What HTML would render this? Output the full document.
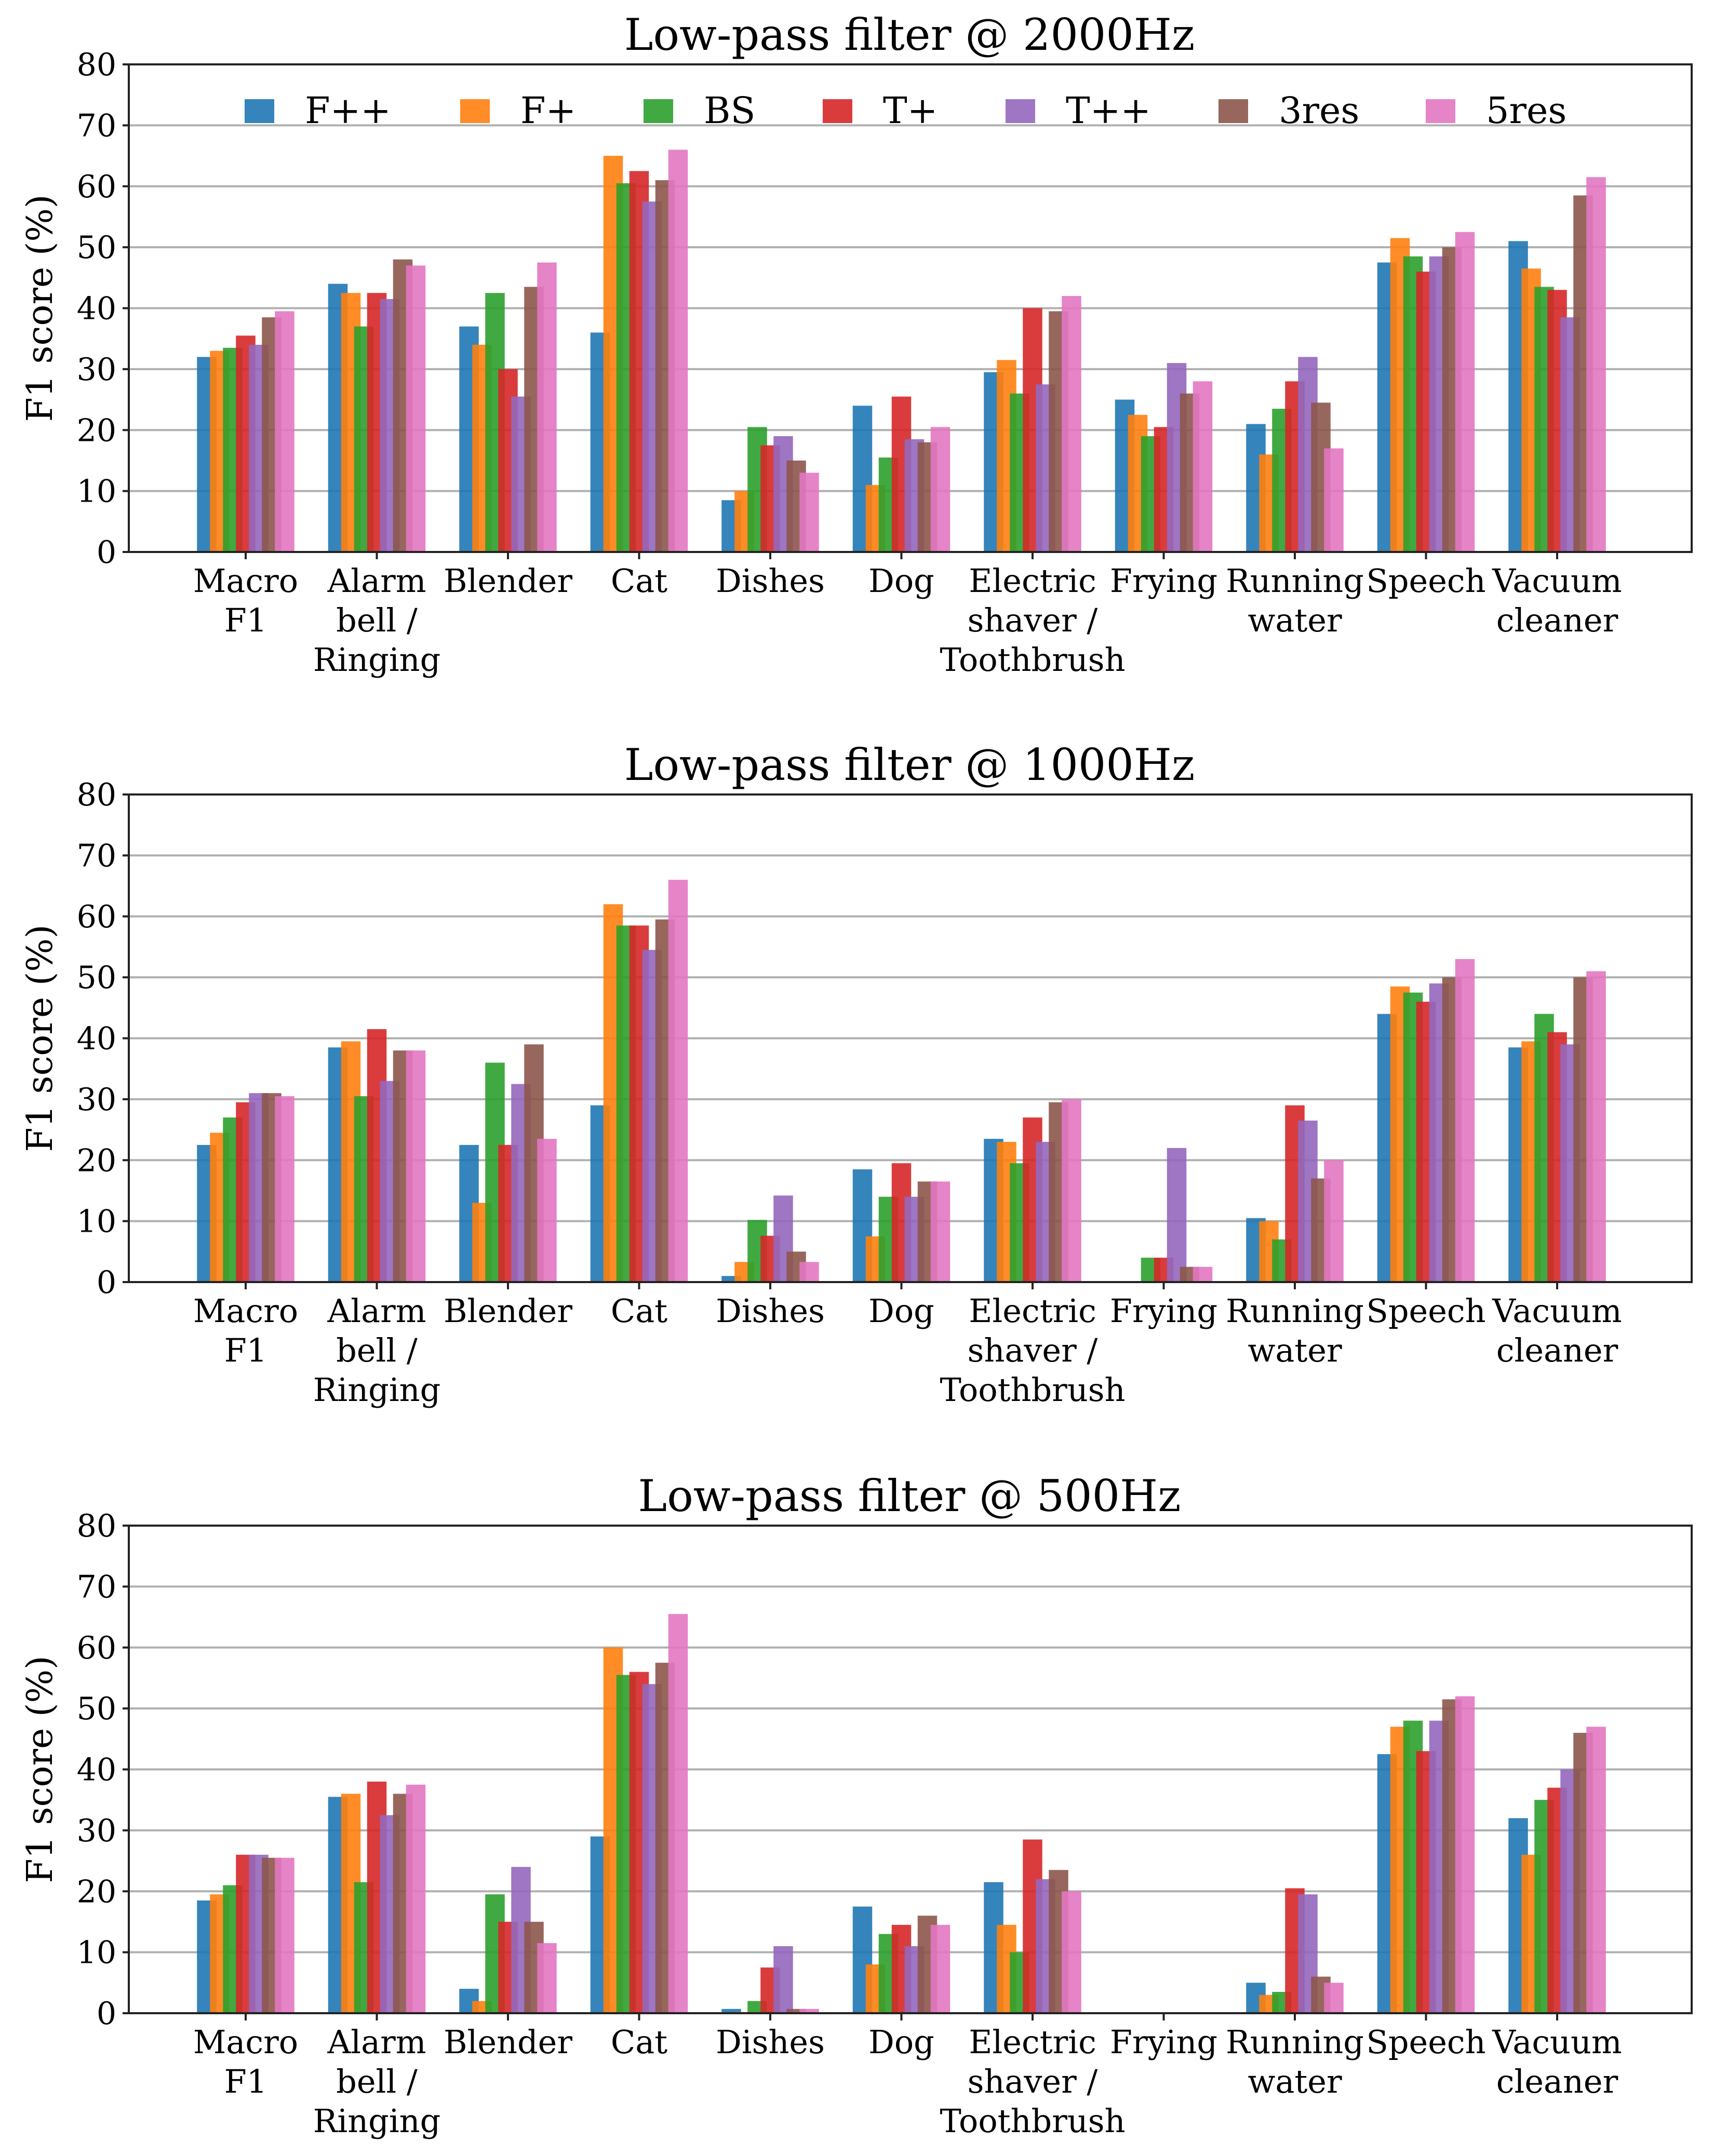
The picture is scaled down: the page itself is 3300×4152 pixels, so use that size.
<!DOCTYPE html>
<html><head><meta charset="utf-8"><style>
html,body{margin:0;padding:0;background:#fff}
svg{display:block}
text{font-family:"DejaVu Serif","Liberation Serif",serif;fill:#000}
</style></head><body>
<svg id="fig" width="3300" height="4152" viewBox="0 0 3300 4152" xmlns="http://www.w3.org/2000/svg"></svg>
<script>
const categories = [["Macro","F1"],["Alarm","bell /","Ringing"],["Blender"],["Cat"],["Dishes"],["Dog"],["Electric","shaver /","Toothbrush"],["Frying"],["Running","water"],["Speech"],["Vacuum","cleaner"]];
const seriesNames = ["F++","F+","BS","T+","T++","3res","5res"];
const seriesColors = ["#1f77b4","#ff7f0e","#2ca02c","#d62728","#9467bd","#8c564b","#e377c2"];
const yTicks = [0,10,20,30,40,50,60,70,80];
const chartTitles = ["Low-pass filter @ 2000Hz","Low-pass filter @ 1000Hz","Low-pass filter @ 500Hz"];
// values[category][series]
const values2000 = [
 [32,33,33.5,35.5,34,38.5,39.5],
 [44,42.5,37,42.5,41.5,48,47],
 [37,34,42.5,30,25.5,43.5,47.5],
 [36,65,60.5,62.5,57.5,61,66],
 [8.5,10,20.5,17.5,19,15,13],
 [24,11,15.5,25.5,18.5,18,20.5],
 [29.5,31.5,26,40,27.5,39.5,42],
 [25,22.5,19,20.5,31,26,28],
 [21,16,23.5,28,32,24.5,17],
 [47.5,51.5,48.5,46,48.5,50,52.5],
 [51,46.5,43.5,43,38.5,58.5,61.5]];
const values1000 = [
 [22.5,24.5,27,29.5,31,31,30.5],
 [38.5,39.5,30.5,41.5,33,38,38],
 [22.5,13,36,22.5,32.5,39,23.5],
 [29,62,58.5,58.5,54.5,59.5,66],
 [1,3.3,10.2,7.6,14.2,5,3.3],
 [18.5,7.5,14,19.5,14,16.5,16.5],
 [23.5,23,19.5,27,23,29.5,30],
 [0,0,4,4,22,2.5,2.5],
 [10.5,10,7,29,26.5,17,20],
 [44,48.5,47.5,46,49,50,53],
 [38.5,39.5,44,41,39,50,51]];
const values500 = [
 [18.5,19.5,21,26,26,25.5,25.5],
 [35.5,36,21.5,38,32.5,36,37.5],
 [4,2,19.5,15,24,15,11.5],
 [29,60,55.5,56,54,57.5,65.5],
 [0.7,0.2,2,7.5,11,0.7,0.7],
 [17.5,8,13,14.5,11,16,14.5],
 [21.5,14.5,10,28.5,22,23.5,20],
 [0,0,0,0,0,0,0],
 [5,3,3.5,20.5,19.5,6,5],
 [42.5,47,48,43,48,51.5,52],
 [32,26,35,37,40,46,47]];
const allValues = [values2000, values1000, values500];

const NS = "http://www.w3.org/2000/svg";
const svg = document.getElementById("fig");
function mk(tag, attrs, parent){
  const e = document.createElementNS(NS, tag);
  for (const k in attrs) e.setAttribute(k, attrs[k]);
  (parent||svg).appendChild(e);
  return e;
}
const L = 248, R = 3257, H = 939;
const tops = [124, 1530, 2938];
const x0 = 473, step = 252.5, barStep = 25, barW = 37.5;
function xCenter(i){ return x0 + i*step; }

tops.forEach((top, ci) => {
  const bot = top + H;
  const y = v => bot - v/80*H;
  const g = mk("g", {});
  
  
  const t = mk("text", {x:1751, y:top-28, "font-size":84, "text-anchor":"middle"}, g);
  t.textContent = chartTitles[ci];
  
  
  yTicks.forEach(v => {
    if (v>0 && v<80) {
      const gl = mk("line", {x1:L, x2:R, y1:y(v), y2:y(v), stroke:"#b0b0b0", "stroke-width":4}, g);
      
      
    }
    mk("line", {x1:L-12, x2:L, y1:y(v), y2:y(v), stroke:"#222", "stroke-width":4}, g);
    const tl = mk("text", {x:L-24, y:y(v)+21, "font-size":60, "text-anchor":"end"}, g);
    tl.textContent = v;
    
    
  });
  const yl = mk("text", {x:0, y:0, "font-size":68, "text-anchor":"middle", transform:`translate(100,${top+H/2}) rotate(-90)`}, g);
  yl.textContent = "F1 score (%)";
  
  
  const vals = allValues[ci];
  vals.forEach((row, i) => {
    row.forEach((v, j) => {
      const cx = xCenter(i) + barStep*(j-3);
      const b = mk("rect", {x:cx-barW/2, y:y(v), width:barW, height:bot-y(v), fill:seriesColors[j], "fill-opacity":0.9}, g);
      
      
    });
    mk("line", {x1:xCenter(i), x2:xCenter(i), y1:bot, y2:bot+14, stroke:"#222", "stroke-width":4}, g);
    categories[i].forEach((ln, k) => {
      const ct = mk("text", {x:xCenter(i), y:bot+77+k*76, "font-size":62, "text-anchor":"middle"}, g);
      ct.textContent = ln;
      
      
    });
  });
  const frame = mk("rect", {x:L, y:top, width:R-L, height:H, fill:"none", stroke:"#222", "stroke-width":4}, g);
  
  
  if (ci === 0) {
    const legX = [471, 886, 1239, 1584, 1936, 2346, 2745];
    seriesNames.forEach((n, j) => {
      const sq = mk("rect", {x:legX[j], y:191, width:57, height:46, fill:seriesColors[j], "fill-opacity":0.9}, g);
      
      
      const lt = mk("text", {x:legX[j]+116, y:237, "font-size":70}, g);
      lt.textContent = n;
      
      
    });
  }
});
</script>
</body></html>
